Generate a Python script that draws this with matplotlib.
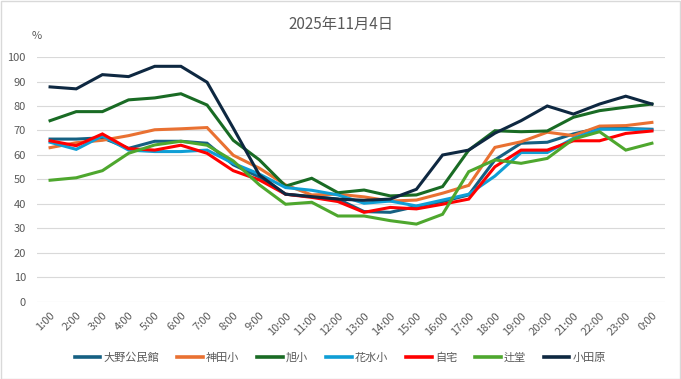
import matplotlib.pyplot as plt
from matplotlib.patches import Rectangle

plt.rcParams["font.family"] = ["Noto Sans CJK JP", "DejaVu Sans"]

hours = ["1:00", "2:00", "3:00", "4:00", "5:00", "6:00", "7:00", "8:00",
         "9:00", "10:00", "11:00", "12:00", "13:00", "14:00", "15:00", "16:00",
         "17:00", "18:00", "19:00", "20:00", "21:00", "22:00", "23:00", "0:00"]

ono = [66.5, 66.5, 67, 62.7, 65.6, 65.6, 64.8, 56, 51, 44, 43, 42,
       36.9, 36.6, 39, 41, 43.7, 58, 64.8, 65.2, 68.6, 71, 70.8, 70.5]
kanda = [63, 65, 66, 67.9, 70.3, 70.7, 71.2, 59.9, 54.6, 47.8, 43.7, 44,
         42.9, 41.2, 41.6, 44.4, 47.6, 63.1, 65.4, 69.3, 67.9, 71.8, 72, 73.3]
asahi = [74, 77.7, 77.7, 82.5, 83.3, 85, 80.4, 66, 58, 47.3, 50.5, 44.6,
         45.7, 43.3, 43.7, 47.1, 62, 69.9, 69.5, 69.8, 75.4, 78.1, 79.5, 80.8]
hanamizu = [65.2, 62.3, 67.8, 62, 61.4, 61.4, 62, 56.6, 52.2, 46.7, 45.6, 43.7,
            40.3, 41.2, 39.2, 41.6, 44, 51.4, 61, 61, 66.8, 70.5, 70.5, 70.2]
home = [65.8, 63.8, 68.6, 62.6, 62, 64, 60.7, 53.6, 49.8, 44, 42.7, 41,
        36.6, 38.6, 38, 39.9, 42, 55.2, 62, 62, 65.8, 65.8, 68.8, 69.8]
tsujido = [49.7, 50.7, 53.6, 60.7, 64.1, 65.6, 64, 57.6, 47.8, 39.9, 40.7, 35.1,
           35.1, 33.2, 31.8, 35.8, 53.2, 58, 56.6, 58.6, 66.5, 69.5, 62, 64.8]
odawara = [87.8, 87, 92.8, 92, 96.2, 96.2, 89.7, 71, 51.8, 44, 43, 42,
           41.5, 42, 46, 60, 62, 68.9, 74, 80, 76.7, 80.8, 84, 80.8]

names = ["大野公民館", "神田小", "旭小", "花水小", "自宅", "辻堂", "小田原"]
series = [ono, kanda, asahi, hanamizu, home, tsujido, odawara]
colors = ["#156082", "#E97132", "#196B24", "#0F9ED5", "#FF0000", "#4EA72E", "#0E2841"]

text_gray = "#595959"

fig = plt.figure(figsize=(6.81, 3.79), dpi=100)
ax = fig.add_axes([0.0543, 0.2032, 0.9222, 0.6464])

x = range(len(hours))
for name, vals, c in zip(names, series, colors):
    ax.plot(x, vals, color=c, linewidth=2.2, label=name, solid_joinstyle="miter")

ax.set_xlim(-0.5, len(hours) - 0.5)
ax.set_ylim(0, 100)
ax.set_yticks(range(0, 101, 10))
ax.set_xticks(list(x))
ax.set_xticklabels(hours, rotation=45, ha="right", rotation_mode="anchor")
ax.tick_params(axis="both", length=0, labelsize=8, labelcolor=text_gray)
ax.tick_params(axis="y", pad=8)
ax.tick_params(axis="x", pad=6)
ax.grid(axis="y", color="#D9D9D9", linewidth=0.8)
ax.set_axisbelow(True)
for s in ax.spines.values():
    s.set_visible(False)

fig.text(0.5, 0.935, "2025年11月4日", ha="center", va="center",
         fontsize=11, color=text_gray)
fig.text(0.047, 0.905, "%", ha="left", va="center", fontsize=8, color=text_gray)

leg = fig.legend(loc="center", bbox_to_anchor=(0.5, 0.057), ncol=7, frameon=False,
                 fontsize=8, labelcolor=text_gray, handlelength=2.3, handletextpad=0.3,
                 columnspacing=1.6)
for line in leg.get_lines():
    line.set_linewidth(2.6)

fig.patches.append(Rectangle((0.001, 0.001), 0.997, 0.996, transform=fig.transFigure,
                             fill=False, edgecolor="#D9D9D9", linewidth=1))

fig.savefig("out.png", dpi=100)
